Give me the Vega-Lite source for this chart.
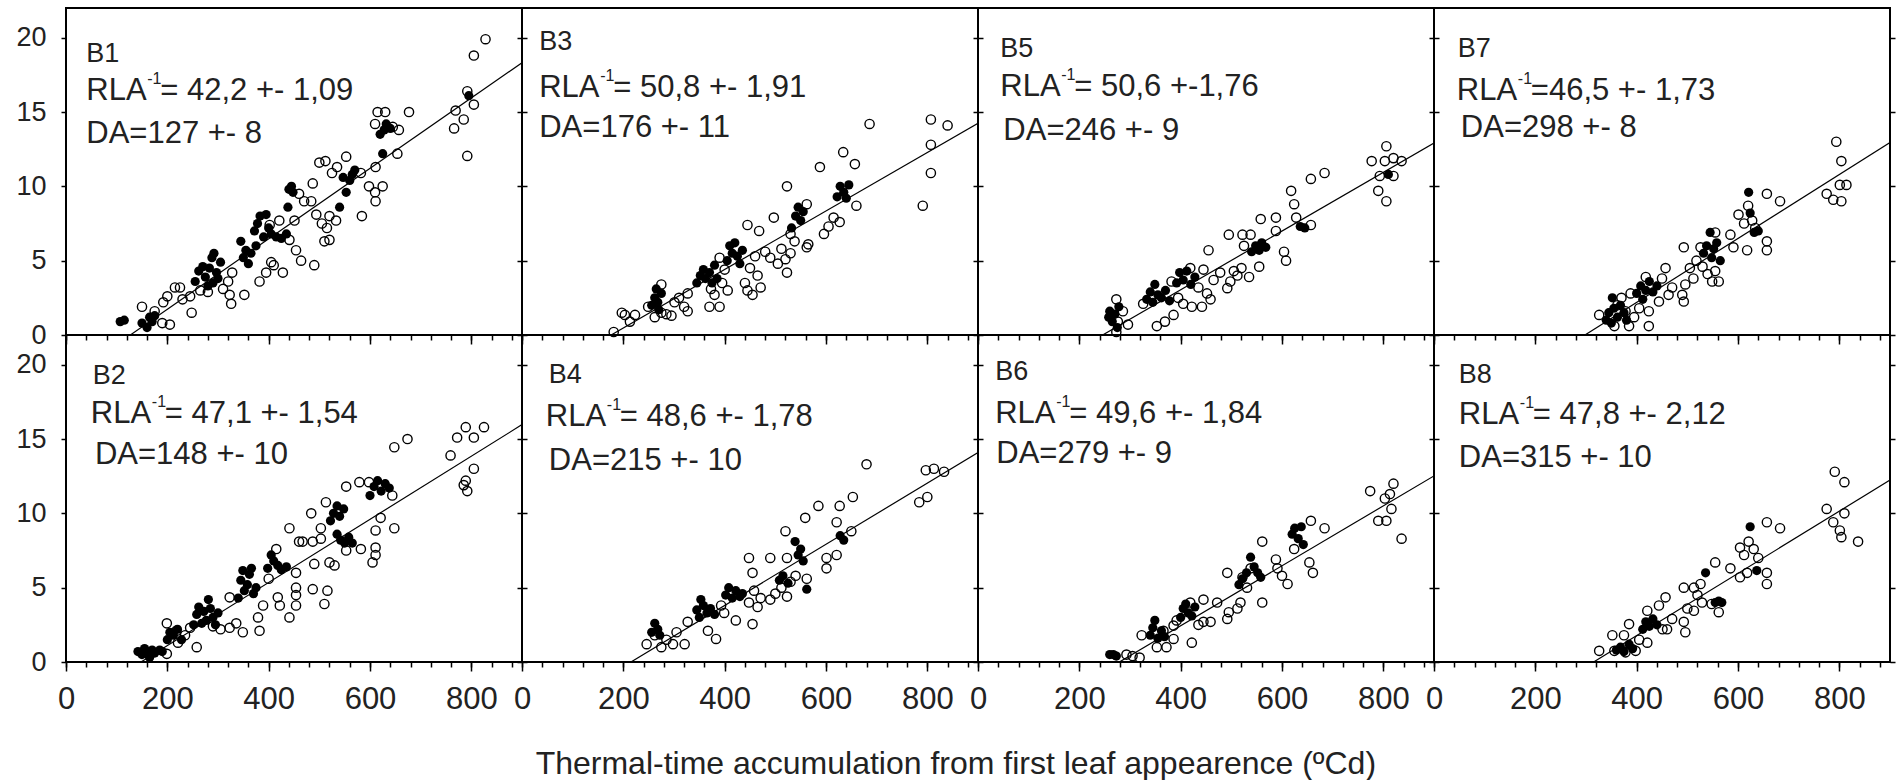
{
"$schema": "https://vega.github.io/schema/vega-lite/v6.json",
"background": "white",
"padding": {"left": 14, "top": 7, "right": 0, "bottom": 0},
"datasets": {
"B1_filled": [{"tt":107,"leaves":0.9},{"tt":115,"leaves":1.0},{"tt":150,"leaves":0.8},{"tt":160,"leaves":0.5},{"tt":170,"leaves":0.9},{"tt":175,"leaves":1.3},{"tt":165,"leaves":1.2},{"tt":255,"leaves":3.6},{"tt":262,"leaves":4.3},{"tt":270,"leaves":4.6},{"tt":275,"leaves":3.9},{"tt":280,"leaves":3.3},{"tt":283,"leaves":4.5},{"tt":288,"leaves":5.2},{"tt":292,"leaves":5.5},{"tt":297,"leaves":4.2},{"tt":300,"leaves":3.8},{"tt":305,"leaves":4.9},{"tt":290,"leaves":3.5},{"tt":345,"leaves":6.3},{"tt":350,"leaves":5.2},{"tt":355,"leaves":5.7},{"tt":360,"leaves":4.8},{"tt":365,"leaves":5.5},{"tt":375,"leaves":6.0},{"tt":372,"leaves":7.0},{"tt":378,"leaves":7.5},{"tt":383,"leaves":8.0},{"tt":390,"leaves":6.6},{"tt":395,"leaves":8.1},{"tt":400,"leaves":7.2},{"tt":405,"leaves":6.8},{"tt":415,"leaves":6.6},{"tt":425,"leaves":6.5},{"tt":435,"leaves":6.8},{"tt":438,"leaves":8.6},{"tt":440,"leaves":9.8},{"tt":448,"leaves":9.6},{"tt":445,"leaves":10.0},{"tt":540,"leaves":8.6},{"tt":553,"leaves":9.6},{"tt":560,"leaves":10.4},{"tt":565,"leaves":10.8},{"tt":570,"leaves":11.1},{"tt":547,"leaves":10.6},{"tt":625,"leaves":12.2},{"tt":620,"leaves":13.5},{"tt":628,"leaves":13.8},{"tt":632,"leaves":14.2},{"tt":640,"leaves":13.9},{"tt":795,"leaves":16.1}],
"B1_open": [{"tt":150,"leaves":1.9},{"tt":175,"leaves":1.6},{"tt":190,"leaves":0.8},{"tt":205,"leaves":0.7},{"tt":192,"leaves":2.2},{"tt":200,"leaves":2.6},{"tt":215,"leaves":3.2},{"tt":225,"leaves":3.2},{"tt":230,"leaves":2.4},{"tt":248,"leaves":1.5},{"tt":245,"leaves":2.6},{"tt":265,"leaves":3.0},{"tt":280,"leaves":2.9},{"tt":310,"leaves":3.1},{"tt":320,"leaves":3.6},{"tt":323,"leaves":2.7},{"tt":326,"leaves":2.1},{"tt":352,"leaves":2.7},{"tt":328,"leaves":4.2},{"tt":382,"leaves":3.6},{"tt":395,"leaves":4.2},{"tt":405,"leaves":4.9},{"tt":410,"leaves":4.7},{"tt":428,"leaves":4.2},{"tt":402,"leaves":7.4},{"tt":421,"leaves":7.7},{"tt":441,"leaves":6.4},{"tt":454,"leaves":5.7},{"tt":464,"leaves":5.0},{"tt":490,"leaves":4.7},{"tt":451,"leaves":7.7},{"tt":460,"leaves":9.5},{"tt":470,"leaves":9.0},{"tt":484,"leaves":9.0},{"tt":487,"leaves":10.2},{"tt":494,"leaves":8.1},{"tt":505,"leaves":7.5},{"tt":515,"leaves":7.2},{"tt":520,"leaves":8.0},{"tt":510,"leaves":6.3},{"tt":520,"leaves":6.4},{"tt":533,"leaves":7.7},{"tt":500,"leaves":11.6},{"tt":512,"leaves":11.7},{"tt":525,"leaves":10.9},{"tt":535,"leaves":11.3},{"tt":553,"leaves":12.0},{"tt":582,"leaves":10.9},{"tt":584,"leaves":8.0},{"tt":598,"leaves":10.0},{"tt":610,"leaves":9.6},{"tt":611,"leaves":9.0},{"tt":625,"leaves":10.0},{"tt":611,"leaves":11.3},{"tt":654,"leaves":12.2},{"tt":610,"leaves":14.2},{"tt":615,"leaves":15.0},{"tt":630,"leaves":15.0},{"tt":645,"leaves":14.0},{"tt":657,"leaves":13.8},{"tt":677,"leaves":15.0},{"tt":766,"leaves":13.9},{"tt":769,"leaves":15.1},{"tt":785,"leaves":14.5},{"tt":792,"leaves":12.05},{"tt":792,"leaves":16.4},{"tt":805,"leaves":15.5},{"tt":805,"leaves":18.8},{"tt":828,"leaves":19.9}],
"B3_filled": [{"tt":256,"leaves":2.0},{"tt":262,"leaves":2.5},{"tt":265,"leaves":3.1},{"tt":270,"leaves":1.7},{"tt":268,"leaves":2.2},{"tt":275,"leaves":2.8},{"tt":345,"leaves":3.5},{"tt":352,"leaves":4.0},{"tt":358,"leaves":4.4},{"tt":362,"leaves":3.8},{"tt":370,"leaves":4.2},{"tt":375,"leaves":3.5},{"tt":380,"leaves":4.7},{"tt":385,"leaves":3.8},{"tt":405,"leaves":5.0},{"tt":410,"leaves":6.0},{"tt":415,"leaves":5.5},{"tt":420,"leaves":6.2},{"tt":425,"leaves":5.3},{"tt":430,"leaves":4.8},{"tt":435,"leaves":5.7},{"tt":532,"leaves":7.2},{"tt":540,"leaves":8.0},{"tt":545,"leaves":8.6},{"tt":550,"leaves":7.7},{"tt":555,"leaves":8.3},{"tt":622,"leaves":9.3},{"tt":628,"leaves":10.0},{"tt":635,"leaves":9.6},{"tt":640,"leaves":9.2},{"tt":645,"leaves":10.1}],
"B3_open": [{"tt":181,"leaves":0.2},{"tt":197,"leaves":1.5},{"tt":203,"leaves":1.35},{"tt":213,"leaves":0.9},{"tt":223,"leaves":1.35},{"tt":249,"leaves":1.9},{"tt":262,"leaves":1.2},{"tt":275,"leaves":1.5},{"tt":285,"leaves":1.4},{"tt":295,"leaves":1.3},{"tt":275,"leaves":3.4},{"tt":301,"leaves":2.2},{"tt":310,"leaves":2.5},{"tt":320,"leaves":1.9},{"tt":327,"leaves":1.6},{"tt":327,"leaves":2.8},{"tt":370,"leaves":1.9},{"tt":390,"leaves":1.9},{"tt":373,"leaves":3.1},{"tt":380,"leaves":2.7},{"tt":395,"leaves":3.5},{"tt":390,"leaves":5.2},{"tt":400,"leaves":4.4},{"tt":406,"leaves":3.0},{"tt":440,"leaves":3.5},{"tt":445,"leaves":3.0},{"tt":450,"leaves":4.5},{"tt":455,"leaves":2.7},{"tt":460,"leaves":5.3},{"tt":465,"leaves":4.0},{"tt":471,"leaves":3.2},{"tt":445,"leaves":7.4},{"tt":468,"leaves":7.0},{"tt":480,"leaves":5.6},{"tt":490,"leaves":5.2},{"tt":497,"leaves":7.9},{"tt":505,"leaves":4.8},{"tt":512,"leaves":5.8},{"tt":520,"leaves":5.1},{"tt":523,"leaves":4.2},{"tt":530,"leaves":5.5},{"tt":523,"leaves":10.0},{"tt":530,"leaves":6.8},{"tt":538,"leaves":6.3},{"tt":562,"leaves":8.8},{"tt":562,"leaves":5.9},{"tt":565,"leaves":6.1},{"tt":588,"leaves":11.3},{"tt":596,"leaves":6.8},{"tt":605,"leaves":7.3},{"tt":615,"leaves":7.9},{"tt":627,"leaves":7.6},{"tt":634,"leaves":12.3},{"tt":657,"leaves":11.5},{"tt":660,"leaves":8.7},{"tt":686,"leaves":14.2},{"tt":791,"leaves":8.7},{"tt":807,"leaves":10.9},{"tt":807,"leaves":12.8},{"tt":807,"leaves":14.5},{"tt":840,"leaves":14.1}],
"B5_filled": [{"tt":258,"leaves":1.2},{"tt":260,"leaves":1.6},{"tt":265,"leaves":0.9},{"tt":270,"leaves":1.4},{"tt":275,"leaves":0.5},{"tt":278,"leaves":1.9},{"tt":333,"leaves":2.4},{"tt":340,"leaves":2.9},{"tt":345,"leaves":2.2},{"tt":349,"leaves":3.4},{"tt":355,"leaves":2.7},{"tt":362,"leaves":2.5},{"tt":370,"leaves":3.0},{"tt":378,"leaves":2.3},{"tt":392,"leaves":3.5},{"tt":398,"leaves":4.2},{"tt":405,"leaves":3.7},{"tt":412,"leaves":4.3},{"tt":420,"leaves":3.4},{"tt":428,"leaves":3.9},{"tt":540,"leaves":5.6},{"tt":548,"leaves":6.0},{"tt":555,"leaves":5.7},{"tt":560,"leaves":6.2},{"tt":568,"leaves":5.9},{"tt":636,"leaves":7.3},{"tt":645,"leaves":7.2},{"tt":810,"leaves":10.8}],
"B5_open": [{"tt":273,"leaves":2.4},{"tt":286,"leaves":1.6},{"tt":296,"leaves":0.7},{"tt":276,"leaves":0.9},{"tt":273,"leaves":0.2},{"tt":326,"leaves":2.1},{"tt":353,"leaves":0.6},{"tt":369,"leaves":0.9},{"tt":386,"leaves":1.35},{"tt":382,"leaves":3.6},{"tt":395,"leaves":2.5},{"tt":405,"leaves":2.1},{"tt":419,"leaves":4.5},{"tt":422,"leaves":1.9},{"tt":435,"leaves":3.2},{"tt":442,"leaves":1.9},{"tt":445,"leaves":4.4},{"tt":452,"leaves":2.8},{"tt":459,"leaves":2.4},{"tt":455,"leaves":5.7},{"tt":465,"leaves":3.7},{"tt":478,"leaves":4.2},{"tt":492,"leaves":3.15},{"tt":498,"leaves":3.6},{"tt":505,"leaves":4.3},{"tt":512,"leaves":4.0},{"tt":520,"leaves":4.5},{"tt":535,"leaves":3.9},{"tt":555,"leaves":4.6},{"tt":495,"leaves":6.75},{"tt":522,"leaves":6.75},{"tt":538,"leaves":6.75},{"tt":525,"leaves":6.0},{"tt":558,"leaves":7.8},{"tt":588,"leaves":7.9},{"tt":588,"leaves":7.0},{"tt":604,"leaves":5.6},{"tt":608,"leaves":5.0},{"tt":618,"leaves":9.7},{"tt":624,"leaves":8.8},{"tt":628,"leaves":7.9},{"tt":657,"leaves":7.4},{"tt":657,"leaves":10.5},{"tt":684,"leaves":10.9},{"tt":777,"leaves":11.7},{"tt":790,"leaves":9.7},{"tt":806,"leaves":9.0},{"tt":793,"leaves":10.7},{"tt":803,"leaves":11.7},{"tt":806,"leaves":12.7},{"tt":820,"leaves":11.9},{"tt":820,"leaves":10.7},{"tt":836,"leaves":11.7}],
"B7_filled": [{"tt":340,"leaves":1.0},{"tt":345,"leaves":1.5},{"tt":350,"leaves":0.8},{"tt":352,"leaves":2.5},{"tt":355,"leaves":1.8},{"tt":362,"leaves":1.2},{"tt":368,"leaves":2.0},{"tt":375,"leaves":1.5},{"tt":380,"leaves":1.0},{"tt":400,"leaves":2.8},{"tt":408,"leaves":3.3},{"tt":412,"leaves":2.4},{"tt":418,"leaves":3.0},{"tt":425,"leaves":3.6},{"tt":432,"leaves":2.9},{"tt":440,"leaves":3.3},{"tt":532,"leaves":5.5},{"tt":538,"leaves":6.0},{"tt":545,"leaves":6.9},{"tt":548,"leaves":5.2},{"tt":552,"leaves":5.8},{"tt":558,"leaves":6.2},{"tt":565,"leaves":5.0},{"tt":621,"leaves":9.6},{"tt":624,"leaves":8.2},{"tt":640,"leaves":7.0},{"tt":632,"leaves":6.9}],
"B7_open": [{"tt":326,"leaves":1.35},{"tt":356,"leaves":0.6},{"tt":385,"leaves":0.6},{"tt":424,"leaves":0.6},{"tt":362,"leaves":2.0},{"tt":370,"leaves":2.5},{"tt":378,"leaves":1.6},{"tt":388,"leaves":2.8},{"tt":395,"leaves":1.2},{"tt":405,"leaves":1.8},{"tt":418,"leaves":3.9},{"tt":424,"leaves":1.6},{"tt":444,"leaves":2.25},{"tt":450,"leaves":3.8},{"tt":457,"leaves":4.5},{"tt":463,"leaves":2.7},{"tt":470,"leaves":3.2},{"tt":490,"leaves":2.7},{"tt":493,"leaves":2.25},{"tt":496,"leaves":3.4},{"tt":493,"leaves":5.9},{"tt":505,"leaves":4.5},{"tt":512,"leaves":3.8},{"tt":518,"leaves":5.0},{"tt":526,"leaves":5.9},{"tt":530,"leaves":4.6},{"tt":540,"leaves":4.1},{"tt":549,"leaves":3.6},{"tt":555,"leaves":6.9},{"tt":562,"leaves":3.6},{"tt":555,"leaves":4.3},{"tt":585,"leaves":6.75},{"tt":591,"leaves":5.9},{"tt":618,"leaves":5.7},{"tt":601,"leaves":8.1},{"tt":612,"leaves":7.5},{"tt":620,"leaves":8.7},{"tt":628,"leaves":7.7},{"tt":634,"leaves":7.2},{"tt":657,"leaves":9.5},{"tt":683,"leaves":9.0},{"tt":657,"leaves":5.7},{"tt":657,"leaves":6.3},{"tt":775,"leaves":9.5},{"tt":788,"leaves":9.1},{"tt":804,"leaves":9.0},{"tt":801,"leaves":10.1},{"tt":814,"leaves":10.1},{"tt":794,"leaves":13.0},{"tt":804,"leaves":11.7}],
"B2_filled": [{"tt":142,"leaves":0.7},{"tt":150,"leaves":0.5},{"tt":155,"leaves":0.9},{"tt":160,"leaves":0.6},{"tt":165,"leaves":0.3},{"tt":170,"leaves":0.8},{"tt":175,"leaves":0.6},{"tt":185,"leaves":0.8},{"tt":190,"leaves":0.7},{"tt":200,"leaves":1.5},{"tt":205,"leaves":2.0},{"tt":212,"leaves":1.8},{"tt":220,"leaves":2.2},{"tt":228,"leaves":1.5},{"tt":252,"leaves":2.5},{"tt":258,"leaves":3.2},{"tt":262,"leaves":3.7},{"tt":268,"leaves":2.6},{"tt":272,"leaves":3.4},{"tt":277,"leaves":2.8},{"tt":281,"leaves":4.2},{"tt":285,"leaves":3.6},{"tt":290,"leaves":3.0},{"tt":295,"leaves":2.5},{"tt":300,"leaves":3.3},{"tt":340,"leaves":4.3},{"tt":345,"leaves":5.5},{"tt":349,"leaves":6.15},{"tt":352,"leaves":4.8},{"tt":358,"leaves":5.2},{"tt":362,"leaves":5.9},{"tt":366,"leaves":6.3},{"tt":370,"leaves":4.6},{"tt":375,"leaves":5.0},{"tt":398,"leaves":6.3},{"tt":405,"leaves":7.2},{"tt":410,"leaves":6.8},{"tt":418,"leaves":6.5},{"tt":425,"leaves":6.2},{"tt":435,"leaves":6.4},{"tt":522,"leaves":9.5},{"tt":528,"leaves":10.0},{"tt":535,"leaves":10.5},{"tt":540,"leaves":9.8},{"tt":548,"leaves":10.3},{"tt":535,"leaves":8.6},{"tt":542,"leaves":8.2},{"tt":550,"leaves":8.0},{"tt":558,"leaves":8.4},{"tt":565,"leaves":8.0},{"tt":600,"leaves":11.2},{"tt":608,"leaves":11.8},{"tt":615,"leaves":12.2},{"tt":622,"leaves":11.5},{"tt":630,"leaves":12.0},{"tt":638,"leaves":11.7}],
"B2_open": [{"tt":199,"leaves":0.55},{"tt":199,"leaves":2.6},{"tt":218,"leaves":2.1},{"tt":221,"leaves":1.3},{"tt":235,"leaves":1.8},{"tt":245,"leaves":2.3},{"tt":258,"leaves":1.0},{"tt":290,"leaves":2.4},{"tt":305,"leaves":2.2},{"tt":323,"leaves":2.3},{"tt":336,"leaves":2.6},{"tt":349,"leaves":2.0},{"tt":382,"leaves":2.1},{"tt":379,"leaves":3.0},{"tt":323,"leaves":4.35},{"tt":389,"leaves":3.8},{"tt":400,"leaves":5.6},{"tt":418,"leaves":4.35},{"tt":422,"leaves":3.8},{"tt":415,"leaves":7.6},{"tt":441,"leaves":9.0},{"tt":441,"leaves":3.0},{"tt":454,"leaves":3.8},{"tt":454,"leaves":4.5},{"tt":454,"leaves":5.0},{"tt":454,"leaves":6.0},{"tt":460,"leaves":8.1},{"tt":467,"leaves":8.1},{"tt":487,"leaves":4.9},{"tt":490,"leaves":6.6},{"tt":484,"leaves":10.0},{"tt":487,"leaves":8.1},{"tt":503,"leaves":9.0},{"tt":510,"leaves":3.9},{"tt":516,"leaves":4.8},{"tt":513,"leaves":10.75},{"tt":520,"leaves":6.7},{"tt":530,"leaves":6.5},{"tt":503,"leaves":8.3},{"tt":553,"leaves":7.5},{"tt":553,"leaves":11.8},{"tt":579,"leaves":12.1},{"tt":582,"leaves":7.6},{"tt":598,"leaves":12.1},{"tt":605,"leaves":6.7},{"tt":611,"leaves":7.2},{"tt":611,"leaves":7.7},{"tt":611,"leaves":8.85},{"tt":621,"leaves":9.7},{"tt":644,"leaves":11.2},{"tt":648,"leaves":9.0},{"tt":648,"leaves":14.45},{"tt":674,"leaves":15.0},{"tt":759,"leaves":13.9},{"tt":772,"leaves":15.1},{"tt":789,"leaves":15.8},{"tt":805,"leaves":15.1},{"tt":825,"leaves":15.8},{"tt":805,"leaves":13.0},{"tt":785,"leaves":11.9},{"tt":792,"leaves":11.5},{"tt":789,"leaves":12.2}],
"B4_filled": [{"tt":256,"leaves":2.0},{"tt":262,"leaves":2.6},{"tt":268,"leaves":2.2},{"tt":272,"leaves":1.8},{"tt":345,"leaves":3.5},{"tt":350,"leaves":3.0},{"tt":353,"leaves":4.2},{"tt":358,"leaves":3.8},{"tt":365,"leaves":3.3},{"tt":372,"leaves":3.6},{"tt":380,"leaves":3.2},{"tt":402,"leaves":4.5},{"tt":408,"leaves":5.0},{"tt":415,"leaves":4.3},{"tt":422,"leaves":4.8},{"tt":430,"leaves":4.4},{"tt":435,"leaves":4.6},{"tt":508,"leaves":5.5},{"tt":515,"leaves":5.8},{"tt":525,"leaves":5.3},{"tt":539,"leaves":8.1},{"tt":545,"leaves":7.2},{"tt":550,"leaves":7.6},{"tt":555,"leaves":6.8},{"tt":562,"leaves":4.9},{"tt":628,"leaves":8.5},{"tt":635,"leaves":8.2}],
"B4_open": [{"tt":246,"leaves":1.2},{"tt":262,"leaves":1.8},{"tt":275,"leaves":1.0},{"tt":285,"leaves":1.5},{"tt":298,"leaves":1.2},{"tt":321,"leaves":1.2},{"tt":305,"leaves":2.0},{"tt":327,"leaves":2.7},{"tt":367,"leaves":2.1},{"tt":383,"leaves":1.55},{"tt":393,"leaves":3.8},{"tt":399,"leaves":3.3},{"tt":422,"leaves":2.8},{"tt":455,"leaves":2.55},{"tt":448,"leaves":4.0},{"tt":458,"leaves":4.8},{"tt":465,"leaves":3.7},{"tt":471,"leaves":4.3},{"tt":455,"leaves":6.0},{"tt":448,"leaves":7.0},{"tt":490,"leaves":4.2},{"tt":500,"leaves":4.6},{"tt":512,"leaves":5.0},{"tt":523,"leaves":4.4},{"tt":490,"leaves":7.0},{"tt":520,"leaves":8.8},{"tt":530,"leaves":5.4},{"tt":540,"leaves":5.8},{"tt":562,"leaves":5.6},{"tt":523,"leaves":7.0},{"tt":559,"leaves":9.7},{"tt":585,"leaves":10.5},{"tt":601,"leaves":7.0},{"tt":601,"leaves":6.3},{"tt":621,"leaves":7.2},{"tt":621,"leaves":9.4},{"tt":627,"leaves":10.5},{"tt":653,"leaves":11.1},{"tt":650,"leaves":8.8},{"tt":680,"leaves":13.3},{"tt":784,"leaves":10.75},{"tt":800,"leaves":11.1},{"tt":797,"leaves":12.9},{"tt":813,"leaves":13.0},{"tt":833,"leaves":12.8}],
"B6_filled": [{"tt":260,"leaves":0.5},{"tt":267,"leaves":0.5},{"tt":273,"leaves":0.4},{"tt":340,"leaves":1.8},{"tt":345,"leaves":2.3},{"tt":349,"leaves":2.8},{"tt":355,"leaves":1.6},{"tt":362,"leaves":2.1},{"tt":368,"leaves":1.7},{"tt":400,"leaves":3.0},{"tt":405,"leaves":3.6},{"tt":410,"leaves":3.9},{"tt":415,"leaves":3.3},{"tt":422,"leaves":3.1},{"tt":428,"leaves":3.7},{"tt":515,"leaves":5.2},{"tt":522,"leaves":5.6},{"tt":530,"leaves":6.0},{"tt":538,"leaves":7.05},{"tt":545,"leaves":6.4},{"tt":552,"leaves":6.0},{"tt":558,"leaves":5.7},{"tt":620,"leaves":8.6},{"tt":625,"leaves":9.0},{"tt":632,"leaves":8.3},{"tt":638,"leaves":9.1},{"tt":642,"leaves":7.9}],
"B6_open": [{"tt":293,"leaves":0.5},{"tt":305,"leaves":0.4},{"tt":319,"leaves":0.3},{"tt":323,"leaves":1.8},{"tt":353,"leaves":1.0},{"tt":372,"leaves":1.0},{"tt":386,"leaves":1.55},{"tt":366,"leaves":2.1},{"tt":386,"leaves":2.45},{"tt":392,"leaves":2.8},{"tt":419,"leaves":4.0},{"tt":445,"leaves":4.2},{"tt":422,"leaves":1.3},{"tt":445,"leaves":2.7},{"tt":459,"leaves":2.7},{"tt":435,"leaves":2.5},{"tt":472,"leaves":4.0},{"tt":492,"leaves":2.9},{"tt":495,"leaves":3.35},{"tt":512,"leaves":3.6},{"tt":518,"leaves":4.0},{"tt":492,"leaves":6.0},{"tt":522,"leaves":5.7},{"tt":531,"leaves":5.0},{"tt":538,"leaves":6.3},{"tt":561,"leaves":8.1},{"tt":561,"leaves":4.0},{"tt":588,"leaves":6.9},{"tt":591,"leaves":6.3},{"tt":611,"leaves":5.25},{"tt":600,"leaves":5.8},{"tt":624,"leaves":7.6},{"tt":657,"leaves":9.5},{"tt":684,"leaves":9.0},{"tt":654,"leaves":6.7},{"tt":661,"leaves":6.0},{"tt":774,"leaves":11.5},{"tt":790,"leaves":9.5},{"tt":806,"leaves":9.5},{"tt":803,"leaves":11.0},{"tt":820,"leaves":12.0},{"tt":816,"leaves":10.3},{"tt":836,"leaves":8.3},{"tt":813,"leaves":11.3}],
"B8_filled": [{"tt":360,"leaves":0.8},{"tt":368,"leaves":1.0},{"tt":375,"leaves":0.7},{"tt":385,"leaves":1.2},{"tt":392,"leaves":0.9},{"tt":412,"leaves":2.2},{"tt":418,"leaves":2.7},{"tt":425,"leaves":2.4},{"tt":432,"leaves":2.9},{"tt":440,"leaves":2.5},{"tt":536,"leaves":6.0},{"tt":555,"leaves":4.0},{"tt":562,"leaves":4.1},{"tt":568,"leaves":4.0},{"tt":624,"leaves":9.1},{"tt":637,"leaves":6.15}],
"B8_open": [{"tt":326,"leaves":0.75},{"tt":352,"leaves":1.8},{"tt":356,"leaves":0.75},{"tt":378,"leaves":0.65},{"tt":398,"leaves":0.75},{"tt":385,"leaves":2.55},{"tt":375,"leaves":1.8},{"tt":405,"leaves":1.5},{"tt":421,"leaves":3.45},{"tt":421,"leaves":1.3},{"tt":444,"leaves":3.8},{"tt":457,"leaves":4.35},{"tt":451,"leaves":2.2},{"tt":460,"leaves":2.2},{"tt":470,"leaves":2.9},{"tt":493,"leaves":2.7},{"tt":496,"leaves":2.0},{"tt":493,"leaves":5.0},{"tt":513,"leaves":5.0},{"tt":526,"leaves":5.25},{"tt":500,"leaves":3.6},{"tt":513,"leaves":3.45},{"tt":529,"leaves":4.0},{"tt":520,"leaves":4.5},{"tt":555,"leaves":6.7},{"tt":562,"leaves":3.35},{"tt":548,"leaves":3.9},{"tt":585,"leaves":6.3},{"tt":604,"leaves":5.7},{"tt":618,"leaves":6.0},{"tt":621,"leaves":8.1},{"tt":631,"leaves":7.6},{"tt":604,"leaves":7.7},{"tt":612,"leaves":7.2},{"tt":640,"leaves":7.0},{"tt":657,"leaves":9.4},{"tt":683,"leaves":9.0},{"tt":657,"leaves":6.0},{"tt":657,"leaves":5.25},{"tt":775,"leaves":10.3},{"tt":788,"leaves":9.4},{"tt":801,"leaves":8.85},{"tt":804,"leaves":8.4},{"tt":810,"leaves":10.0},{"tt":837,"leaves":8.1},{"tt":791,"leaves":12.8},{"tt":810,"leaves":12.1}],
"lines": [{"panel":"B1","tt":127,"leaves":0},{"panel":"B1","tt":900,"leaves":18.32},{"panel":"B2","tt":148,"leaves":0},{"panel":"B2","tt":900,"leaves":15.97},{"panel":"B3","tt":176,"leaves":0},{"panel":"B3","tt":900,"leaves":14.25},{"panel":"B4","tt":215,"leaves":0},{"panel":"B4","tt":900,"leaves":14.09},{"panel":"B5","tt":246,"leaves":0},{"panel":"B5","tt":900,"leaves":12.92},{"panel":"B6","tt":279,"leaves":0},{"panel":"B6","tt":900,"leaves":12.52},{"panel":"B7","tt":298,"leaves":0},{"panel":"B7","tt":900,"leaves":12.95},{"panel":"B8","tt":315,"leaves":0},{"panel":"B8","tt":900,"leaves":12.24}],
"notes": [
{"panel":"B1","kind":"id","text":"B1","tt":40,"leaves":18.4},{"panel":"B1","kind":"rla","text":"= 42,2 +- 1,09","tt":40,"leaves":15.8},{"panel":"B1","kind":"da","text":"DA=127 +- 8","tt":40,"leaves":12.95},
{"panel":"B3","kind":"id","text":"B3","tt":34,"leaves":19.2},{"panel":"B3","kind":"rla","text":"= 50,8 +- 1,91","tt":34,"leaves":16.0},{"panel":"B3","kind":"da","text":"DA=176 +- 11","tt":34,"leaves":13.3},
{"panel":"B5","kind":"id","text":"B5","tt":44,"leaves":18.7},{"panel":"B5","kind":"rla","text":"= 50,6 +-1,76","tt":44,"leaves":16.05},{"panel":"B5","kind":"da","text":"DA=246 +- 9","tt":50,"leaves":13.1},
{"panel":"B7","kind":"id","text":"B7","tt":47,"leaves":18.7},{"panel":"B7","kind":"rla","text":"=46,5 +- 1,73","tt":45,"leaves":15.8},{"panel":"B7","kind":"da","text":"DA=298 +- 8","tt":53,"leaves":13.3},
{"panel":"B2","kind":"id","text":"B2","tt":53,"leaves":18.7},{"panel":"B2","kind":"rla","text":"= 47,1 +- 1,54","tt":49,"leaves":16.1},{"panel":"B2","kind":"da","text":"DA=148 +- 10","tt":57,"leaves":13.3},
{"panel":"B4","kind":"id","text":"B4","tt":53,"leaves":18.8},{"panel":"B4","kind":"rla","text":"= 48,6 +- 1,78","tt":47,"leaves":15.9},{"panel":"B4","kind":"da","text":"DA=215 +- 10","tt":53,"leaves":12.9},
{"panel":"B6","kind":"id","text":"B6","tt":34,"leaves":19.0},{"panel":"B6","kind":"rla","text":"= 49,6 +- 1,84","tt":34,"leaves":16.1},{"panel":"B6","kind":"da","text":"DA=279 +- 9","tt":36,"leaves":13.4},
{"panel":"B8","kind":"id","text":"B8","tt":49,"leaves":18.8},{"panel":"B8","kind":"rla","text":"= 47,8 +- 2,12","tt":49,"leaves":16.0},{"panel":"B8","kind":"da","text":"DA=315 +- 10","tt":49,"leaves":13.1}
]
},
"title": {"text": "Thermal-time accumulation from first leaf appearence (ºCd)", "orient": "bottom", "anchor": "middle", "fontSize": 32, "fontWeight": "normal", "font": "Liberation Sans", "color": "#222", "offset": 34},
"columns": 4,
"spacing": 0,
"bounds": "flush",
"concat": [
{"width": 456, "height": 327, "resolve": {"axis": {"x": "independent"}}, "layer": [
 {"data": {"name": "B1_open"}, "mark": {"type": "point", "shape": "circle", "filled": false, "stroke": "#000", "strokeWidth": 1.4, "size": 85, "opacity": 1},
  "encoding": {"x": {"field": "tt", "type": "quantitative", "scale": {"domain": [0, 900], "nice": false}, "axis": {"orient": "bottom", "values": [0,200,400,600,800], "labels": false, "domain": false, "grid": false, "title": null, "tickColor": "#000", "tickWidth": 1.5, "tickSize": 9}},
   "y": {"field": "leaves", "type": "quantitative", "scale": {"domain": [0, 22], "nice": false}, "axis": {"orient": "left", "values": [0,5,10,15,20], "domain": false, "grid": false, "title": null, "tickSize": 5, "tickWidth": 1.5, "tickColor": "#000", "labelFontSize": 27, "labelPadding": 15, "labelColor": "#222", "labelFont": "Liberation Sans"}}}},
 {"data": {"name": "B1_filled"}, "mark": {"type": "point", "shape": "circle", "filled": true, "fill": "#000", "strokeWidth": 0, "size": 85, "opacity": 1},
  "encoding": {"x": {"field": "tt", "type": "quantitative", "scale": {"domain": [0, 900], "nice": false}, "axis": {"orient": "bottom", "values": [0,40,80,120,160,200,240,280,320,360,400,440,480,520,560,600,640,680,720,760,800,840,880], "labels": false, "domain": false, "grid": false, "title": null, "tickColor": "#000", "tickWidth": 1.5, "tickSize": 5}},
   "y": {"field": "leaves", "type": "quantitative", "scale": {"domain": [0, 22], "nice": false}, "axis": {"orient": "right", "values": [0,5,10,15,20], "labels": false, "domain": false, "grid": false, "title": null, "tickSize": 5, "tickWidth": 1.5, "tickColor": "#000"}}}},
 {"data": {"name": "lines"}, "transform": [{"filter": "datum.panel === 'B1'"}], "mark": {"type": "line", "color": "#000", "strokeWidth": 1.2, "clip": true},
  "encoding": {"x": {"field": "tt", "type": "quantitative", "scale": {"domain": [0, 900], "nice": false}, "axis": null}, "y": {"field": "leaves", "type": "quantitative", "scale": {"domain": [0, 22], "nice": false}, "axis": null}}},
 {"data": {"name": "notes"}, "transform": [{"filter": "datum.panel === 'B1' && datum.kind === 'id'"}], "mark": {"type": "text", "align": "left", "baseline": "alphabetic", "fontSize": 27, "font": "Liberation Sans", "color": "#222"},
  "encoding": {"x": {"field": "tt", "type": "quantitative", "axis": null}, "y": {"field": "leaves", "type": "quantitative", "axis": null}, "text": {"field": "text"}}},
 {"data": {"name": "notes"}, "transform": [{"filter": "datum.panel === 'B1' && datum.kind === 'rla'"}], "mark": {"type": "text", "text": "RLA", "align": "left", "baseline": "alphabetic", "fontSize": 31, "font": "Liberation Sans", "color": "#222"},
  "encoding": {"x": {"field": "tt", "type": "quantitative", "axis": null}, "y": {"field": "leaves", "type": "quantitative", "axis": null}}},
 {"data": {"name": "notes"}, "transform": [{"filter": "datum.panel === 'B1' && datum.kind === 'rla'"}], "mark": {"type": "text", "text": "-1", "align": "left", "baseline": "alphabetic", "fontSize": 16, "dx": 61, "dy": -16, "font": "Liberation Sans", "color": "#222"},
  "encoding": {"x": {"field": "tt", "type": "quantitative", "axis": null}, "y": {"field": "leaves", "type": "quantitative", "axis": null}}},
 {"data": {"name": "notes"}, "transform": [{"filter": "datum.panel === 'B1' && datum.kind === 'rla'"}], "mark": {"type": "text", "align": "left", "baseline": "alphabetic", "fontSize": 31, "dx": 74, "font": "Liberation Sans", "color": "#222"},
  "encoding": {"x": {"field": "tt", "type": "quantitative", "axis": null}, "y": {"field": "leaves", "type": "quantitative", "axis": null}, "text": {"field": "text"}}},
 {"data": {"name": "notes"}, "transform": [{"filter": "datum.panel === 'B1' && datum.kind === 'da'"}], "mark": {"type": "text", "align": "left", "baseline": "alphabetic", "fontSize": 31, "font": "Liberation Sans", "color": "#222"},
  "encoding": {"x": {"field": "tt", "type": "quantitative", "axis": null}, "y": {"field": "leaves", "type": "quantitative", "axis": null}, "text": {"field": "text"}}}
]},
{"width": 456, "height": 327, "resolve": {"axis": {"x": "independent"}}, "layer": [
 {"data": {"name": "B3_open"}, "mark": {"type": "point", "shape": "circle", "filled": false, "stroke": "#000", "strokeWidth": 1.4, "size": 85, "opacity": 1},
  "encoding": {"x": {"field": "tt", "type": "quantitative", "scale": {"domain": [0, 900], "nice": false}, "axis": {"orient": "bottom", "values": [0,200,400,600,800], "labels": false, "domain": false, "grid": false, "title": null, "tickColor": "#000", "tickWidth": 1.5, "tickSize": 9}},
   "y": {"field": "leaves", "type": "quantitative", "scale": {"domain": [0, 22], "nice": false}, "axis": {"orient": "left", "values": [0,5,10,15,20], "labels": false, "domain": false, "grid": false, "title": null, "tickSize": 5, "tickWidth": 1.5, "tickColor": "#000"}}}},
 {"data": {"name": "B3_filled"}, "mark": {"type": "point", "shape": "circle", "filled": true, "fill": "#000", "strokeWidth": 0, "size": 85, "opacity": 1},
  "encoding": {"x": {"field": "tt", "type": "quantitative", "scale": {"domain": [0, 900], "nice": false}, "axis": {"orient": "bottom", "values": [0,40,80,120,160,200,240,280,320,360,400,440,480,520,560,600,640,680,720,760,800,840,880], "labels": false, "domain": false, "grid": false, "title": null, "tickColor": "#000", "tickWidth": 1.5, "tickSize": 5}},
   "y": {"field": "leaves", "type": "quantitative", "scale": {"domain": [0, 22], "nice": false}, "axis": {"orient": "right", "values": [0,5,10,15,20], "labels": false, "domain": false, "grid": false, "title": null, "tickSize": 5, "tickWidth": 1.5, "tickColor": "#000"}}}},
 {"data": {"name": "lines"}, "transform": [{"filter": "datum.panel === 'B3'"}], "mark": {"type": "line", "color": "#000", "strokeWidth": 1.2, "clip": true},
  "encoding": {"x": {"field": "tt", "type": "quantitative", "scale": {"domain": [0, 900], "nice": false}, "axis": null}, "y": {"field": "leaves", "type": "quantitative", "scale": {"domain": [0, 22], "nice": false}, "axis": null}}},
 {"data": {"name": "notes"}, "transform": [{"filter": "datum.panel === 'B3' && datum.kind === 'id'"}], "mark": {"type": "text", "align": "left", "baseline": "alphabetic", "fontSize": 27, "font": "Liberation Sans", "color": "#222"},
  "encoding": {"x": {"field": "tt", "type": "quantitative", "axis": null}, "y": {"field": "leaves", "type": "quantitative", "axis": null}, "text": {"field": "text"}}},
 {"data": {"name": "notes"}, "transform": [{"filter": "datum.panel === 'B3' && datum.kind === 'rla'"}], "mark": {"type": "text", "text": "RLA", "align": "left", "baseline": "alphabetic", "fontSize": 31, "font": "Liberation Sans", "color": "#222"},
  "encoding": {"x": {"field": "tt", "type": "quantitative", "axis": null}, "y": {"field": "leaves", "type": "quantitative", "axis": null}}},
 {"data": {"name": "notes"}, "transform": [{"filter": "datum.panel === 'B3' && datum.kind === 'rla'"}], "mark": {"type": "text", "text": "-1", "align": "left", "baseline": "alphabetic", "fontSize": 16, "dx": 61, "dy": -16, "font": "Liberation Sans", "color": "#222"},
  "encoding": {"x": {"field": "tt", "type": "quantitative", "axis": null}, "y": {"field": "leaves", "type": "quantitative", "axis": null}}},
 {"data": {"name": "notes"}, "transform": [{"filter": "datum.panel === 'B3' && datum.kind === 'rla'"}], "mark": {"type": "text", "align": "left", "baseline": "alphabetic", "fontSize": 31, "dx": 74, "font": "Liberation Sans", "color": "#222"},
  "encoding": {"x": {"field": "tt", "type": "quantitative", "axis": null}, "y": {"field": "leaves", "type": "quantitative", "axis": null}, "text": {"field": "text"}}},
 {"data": {"name": "notes"}, "transform": [{"filter": "datum.panel === 'B3' && datum.kind === 'da'"}], "mark": {"type": "text", "align": "left", "baseline": "alphabetic", "fontSize": 31, "font": "Liberation Sans", "color": "#222"},
  "encoding": {"x": {"field": "tt", "type": "quantitative", "axis": null}, "y": {"field": "leaves", "type": "quantitative", "axis": null}, "text": {"field": "text"}}}
]},
{"width": 456, "height": 327, "resolve": {"axis": {"x": "independent"}}, "layer": [
 {"data": {"name": "B5_open"}, "mark": {"type": "point", "shape": "circle", "filled": false, "stroke": "#000", "strokeWidth": 1.4, "size": 85, "opacity": 1},
  "encoding": {"x": {"field": "tt", "type": "quantitative", "scale": {"domain": [0, 900], "nice": false}, "axis": {"orient": "bottom", "values": [0,200,400,600,800], "labels": false, "domain": false, "grid": false, "title": null, "tickColor": "#000", "tickWidth": 1.5, "tickSize": 9}},
   "y": {"field": "leaves", "type": "quantitative", "scale": {"domain": [0, 22], "nice": false}, "axis": {"orient": "left", "values": [0,5,10,15,20], "labels": false, "domain": false, "grid": false, "title": null, "tickSize": 5, "tickWidth": 1.5, "tickColor": "#000"}}}},
 {"data": {"name": "B5_filled"}, "mark": {"type": "point", "shape": "circle", "filled": true, "fill": "#000", "strokeWidth": 0, "size": 85, "opacity": 1},
  "encoding": {"x": {"field": "tt", "type": "quantitative", "scale": {"domain": [0, 900], "nice": false}, "axis": {"orient": "bottom", "values": [0,40,80,120,160,200,240,280,320,360,400,440,480,520,560,600,640,680,720,760,800,840,880], "labels": false, "domain": false, "grid": false, "title": null, "tickColor": "#000", "tickWidth": 1.5, "tickSize": 5}},
   "y": {"field": "leaves", "type": "quantitative", "scale": {"domain": [0, 22], "nice": false}, "axis": {"orient": "right", "values": [0,5,10,15,20], "labels": false, "domain": false, "grid": false, "title": null, "tickSize": 5, "tickWidth": 1.5, "tickColor": "#000"}}}},
 {"data": {"name": "lines"}, "transform": [{"filter": "datum.panel === 'B5'"}], "mark": {"type": "line", "color": "#000", "strokeWidth": 1.2, "clip": true},
  "encoding": {"x": {"field": "tt", "type": "quantitative", "scale": {"domain": [0, 900], "nice": false}, "axis": null}, "y": {"field": "leaves", "type": "quantitative", "scale": {"domain": [0, 22], "nice": false}, "axis": null}}},
 {"data": {"name": "notes"}, "transform": [{"filter": "datum.panel === 'B5' && datum.kind === 'id'"}], "mark": {"type": "text", "align": "left", "baseline": "alphabetic", "fontSize": 27, "font": "Liberation Sans", "color": "#222"},
  "encoding": {"x": {"field": "tt", "type": "quantitative", "axis": null}, "y": {"field": "leaves", "type": "quantitative", "axis": null}, "text": {"field": "text"}}},
 {"data": {"name": "notes"}, "transform": [{"filter": "datum.panel === 'B5' && datum.kind === 'rla'"}], "mark": {"type": "text", "text": "RLA", "align": "left", "baseline": "alphabetic", "fontSize": 31, "font": "Liberation Sans", "color": "#222"},
  "encoding": {"x": {"field": "tt", "type": "quantitative", "axis": null}, "y": {"field": "leaves", "type": "quantitative", "axis": null}}},
 {"data": {"name": "notes"}, "transform": [{"filter": "datum.panel === 'B5' && datum.kind === 'rla'"}], "mark": {"type": "text", "text": "-1", "align": "left", "baseline": "alphabetic", "fontSize": 16, "dx": 61, "dy": -16, "font": "Liberation Sans", "color": "#222"},
  "encoding": {"x": {"field": "tt", "type": "quantitative", "axis": null}, "y": {"field": "leaves", "type": "quantitative", "axis": null}}},
 {"data": {"name": "notes"}, "transform": [{"filter": "datum.panel === 'B5' && datum.kind === 'rla'"}], "mark": {"type": "text", "align": "left", "baseline": "alphabetic", "fontSize": 31, "dx": 74, "font": "Liberation Sans", "color": "#222"},
  "encoding": {"x": {"field": "tt", "type": "quantitative", "axis": null}, "y": {"field": "leaves", "type": "quantitative", "axis": null}, "text": {"field": "text"}}},
 {"data": {"name": "notes"}, "transform": [{"filter": "datum.panel === 'B5' && datum.kind === 'da'"}], "mark": {"type": "text", "align": "left", "baseline": "alphabetic", "fontSize": 31, "font": "Liberation Sans", "color": "#222"},
  "encoding": {"x": {"field": "tt", "type": "quantitative", "axis": null}, "y": {"field": "leaves", "type": "quantitative", "axis": null}, "text": {"field": "text"}}}
]},
{"width": 456, "height": 327, "resolve": {"axis": {"x": "independent"}}, "layer": [
 {"data": {"name": "B7_open"}, "mark": {"type": "point", "shape": "circle", "filled": false, "stroke": "#000", "strokeWidth": 1.4, "size": 85, "opacity": 1},
  "encoding": {"x": {"field": "tt", "type": "quantitative", "scale": {"domain": [0, 900], "nice": false}, "axis": {"orient": "bottom", "values": [0,200,400,600,800], "labels": false, "domain": false, "grid": false, "title": null, "tickColor": "#000", "tickWidth": 1.5, "tickSize": 9}},
   "y": {"field": "leaves", "type": "quantitative", "scale": {"domain": [0, 22], "nice": false}, "axis": {"orient": "left", "values": [0,5,10,15,20], "labels": false, "domain": false, "grid": false, "title": null, "tickSize": 5, "tickWidth": 1.5, "tickColor": "#000"}}}},
 {"data": {"name": "B7_filled"}, "mark": {"type": "point", "shape": "circle", "filled": true, "fill": "#000", "strokeWidth": 0, "size": 85, "opacity": 1},
  "encoding": {"x": {"field": "tt", "type": "quantitative", "scale": {"domain": [0, 900], "nice": false}, "axis": {"orient": "bottom", "values": [0,40,80,120,160,200,240,280,320,360,400,440,480,520,560,600,640,680,720,760,800,840,880], "labels": false, "domain": false, "grid": false, "title": null, "tickColor": "#000", "tickWidth": 1.5, "tickSize": 5}},
   "y": {"field": "leaves", "type": "quantitative", "scale": {"domain": [0, 22], "nice": false}, "axis": {"orient": "right", "values": [0,5,10,15,20], "labels": false, "domain": false, "grid": false, "title": null, "tickSize": 5, "tickWidth": 1.5, "tickColor": "#000"}}}},
 {"data": {"name": "lines"}, "transform": [{"filter": "datum.panel === 'B7'"}], "mark": {"type": "line", "color": "#000", "strokeWidth": 1.2, "clip": true},
  "encoding": {"x": {"field": "tt", "type": "quantitative", "scale": {"domain": [0, 900], "nice": false}, "axis": null}, "y": {"field": "leaves", "type": "quantitative", "scale": {"domain": [0, 22], "nice": false}, "axis": null}}},
 {"data": {"name": "notes"}, "transform": [{"filter": "datum.panel === 'B7' && datum.kind === 'id'"}], "mark": {"type": "text", "align": "left", "baseline": "alphabetic", "fontSize": 27, "font": "Liberation Sans", "color": "#222"},
  "encoding": {"x": {"field": "tt", "type": "quantitative", "axis": null}, "y": {"field": "leaves", "type": "quantitative", "axis": null}, "text": {"field": "text"}}},
 {"data": {"name": "notes"}, "transform": [{"filter": "datum.panel === 'B7' && datum.kind === 'rla'"}], "mark": {"type": "text", "text": "RLA", "align": "left", "baseline": "alphabetic", "fontSize": 31, "font": "Liberation Sans", "color": "#222"},
  "encoding": {"x": {"field": "tt", "type": "quantitative", "axis": null}, "y": {"field": "leaves", "type": "quantitative", "axis": null}}},
 {"data": {"name": "notes"}, "transform": [{"filter": "datum.panel === 'B7' && datum.kind === 'rla'"}], "mark": {"type": "text", "text": "-1", "align": "left", "baseline": "alphabetic", "fontSize": 16, "dx": 61, "dy": -16, "font": "Liberation Sans", "color": "#222"},
  "encoding": {"x": {"field": "tt", "type": "quantitative", "axis": null}, "y": {"field": "leaves", "type": "quantitative", "axis": null}}},
 {"data": {"name": "notes"}, "transform": [{"filter": "datum.panel === 'B7' && datum.kind === 'rla'"}], "mark": {"type": "text", "align": "left", "baseline": "alphabetic", "fontSize": 31, "dx": 74, "font": "Liberation Sans", "color": "#222"},
  "encoding": {"x": {"field": "tt", "type": "quantitative", "axis": null}, "y": {"field": "leaves", "type": "quantitative", "axis": null}, "text": {"field": "text"}}},
 {"data": {"name": "notes"}, "transform": [{"filter": "datum.panel === 'B7' && datum.kind === 'da'"}], "mark": {"type": "text", "align": "left", "baseline": "alphabetic", "fontSize": 31, "font": "Liberation Sans", "color": "#222"},
  "encoding": {"x": {"field": "tt", "type": "quantitative", "axis": null}, "y": {"field": "leaves", "type": "quantitative", "axis": null}, "text": {"field": "text"}}}
]},
{"width": 456, "height": 327, "resolve": {"axis": {"x": "independent"}}, "layer": [
 {"data": {"name": "B2_open"}, "mark": {"type": "point", "shape": "circle", "filled": false, "stroke": "#000", "strokeWidth": 1.4, "size": 85, "opacity": 1},
  "encoding": {"x": {"field": "tt", "type": "quantitative", "scale": {"domain": [0, 900], "nice": false}, "axis": {"orient": "bottom", "values": [0,200,400,600,800], "labelFontSize": 31, "labelFont": "Liberation Sans", "labelColor": "#222", "labelPadding": 13, "labelFlush": false, "labelOverlap": false, "labelBound": false, "domain": false, "grid": false, "title": null, "tickColor": "#000", "tickWidth": 1.5, "tickSize": 9}},
   "y": {"field": "leaves", "type": "quantitative", "scale": {"domain": [0, 22], "nice": false}, "axis": {"orient": "left", "values": [0,5,10,15,20], "domain": false, "grid": false, "title": null, "tickSize": 5, "tickWidth": 1.5, "tickColor": "#000", "labelFontSize": 27, "labelPadding": 15, "labelColor": "#222", "labelFont": "Liberation Sans"}}}},
 {"data": {"name": "B2_filled"}, "mark": {"type": "point", "shape": "circle", "filled": true, "fill": "#000", "strokeWidth": 0, "size": 85, "opacity": 1},
  "encoding": {"x": {"field": "tt", "type": "quantitative", "scale": {"domain": [0, 900], "nice": false}, "axis": {"orient": "bottom", "values": [0,40,80,120,160,200,240,280,320,360,400,440,480,520,560,600,640,680,720,760,800,840,880], "labels": false, "domain": false, "grid": false, "title": null, "tickColor": "#000", "tickWidth": 1.5, "tickSize": 5}},
   "y": {"field": "leaves", "type": "quantitative", "scale": {"domain": [0, 22], "nice": false}, "axis": {"orient": "right", "values": [0,5,10,15,20], "labels": false, "domain": false, "grid": false, "title": null, "tickSize": 5, "tickWidth": 1.5, "tickColor": "#000"}}}},
 {"data": {"name": "lines"}, "transform": [{"filter": "datum.panel === 'B2'"}], "mark": {"type": "line", "color": "#000", "strokeWidth": 1.2, "clip": true},
  "encoding": {"x": {"field": "tt", "type": "quantitative", "scale": {"domain": [0, 900], "nice": false}, "axis": null}, "y": {"field": "leaves", "type": "quantitative", "scale": {"domain": [0, 22], "nice": false}, "axis": null}}},
 {"data": {"name": "notes"}, "transform": [{"filter": "datum.panel === 'B2' && datum.kind === 'id'"}], "mark": {"type": "text", "align": "left", "baseline": "alphabetic", "fontSize": 27, "font": "Liberation Sans", "color": "#222"},
  "encoding": {"x": {"field": "tt", "type": "quantitative", "axis": null}, "y": {"field": "leaves", "type": "quantitative", "axis": null}, "text": {"field": "text"}}},
 {"data": {"name": "notes"}, "transform": [{"filter": "datum.panel === 'B2' && datum.kind === 'rla'"}], "mark": {"type": "text", "text": "RLA", "align": "left", "baseline": "alphabetic", "fontSize": 31, "font": "Liberation Sans", "color": "#222"},
  "encoding": {"x": {"field": "tt", "type": "quantitative", "axis": null}, "y": {"field": "leaves", "type": "quantitative", "axis": null}}},
 {"data": {"name": "notes"}, "transform": [{"filter": "datum.panel === 'B2' && datum.kind === 'rla'"}], "mark": {"type": "text", "text": "-1", "align": "left", "baseline": "alphabetic", "fontSize": 16, "dx": 61, "dy": -16, "font": "Liberation Sans", "color": "#222"},
  "encoding": {"x": {"field": "tt", "type": "quantitative", "axis": null}, "y": {"field": "leaves", "type": "quantitative", "axis": null}}},
 {"data": {"name": "notes"}, "transform": [{"filter": "datum.panel === 'B2' && datum.kind === 'rla'"}], "mark": {"type": "text", "align": "left", "baseline": "alphabetic", "fontSize": 31, "dx": 74, "font": "Liberation Sans", "color": "#222"},
  "encoding": {"x": {"field": "tt", "type": "quantitative", "axis": null}, "y": {"field": "leaves", "type": "quantitative", "axis": null}, "text": {"field": "text"}}},
 {"data": {"name": "notes"}, "transform": [{"filter": "datum.panel === 'B2' && datum.kind === 'da'"}], "mark": {"type": "text", "align": "left", "baseline": "alphabetic", "fontSize": 31, "font": "Liberation Sans", "color": "#222"},
  "encoding": {"x": {"field": "tt", "type": "quantitative", "axis": null}, "y": {"field": "leaves", "type": "quantitative", "axis": null}, "text": {"field": "text"}}}
]},
{"width": 456, "height": 327, "resolve": {"axis": {"x": "independent"}}, "layer": [
 {"data": {"name": "B4_open"}, "mark": {"type": "point", "shape": "circle", "filled": false, "stroke": "#000", "strokeWidth": 1.4, "size": 85, "opacity": 1},
  "encoding": {"x": {"field": "tt", "type": "quantitative", "scale": {"domain": [0, 900], "nice": false}, "axis": {"orient": "bottom", "values": [0,200,400,600,800], "labelFontSize": 31, "labelFont": "Liberation Sans", "labelColor": "#222", "labelPadding": 13, "labelFlush": false, "labelOverlap": false, "labelBound": false, "domain": false, "grid": false, "title": null, "tickColor": "#000", "tickWidth": 1.5, "tickSize": 9}},
   "y": {"field": "leaves", "type": "quantitative", "scale": {"domain": [0, 22], "nice": false}, "axis": {"orient": "left", "values": [0,5,10,15,20], "labels": false, "domain": false, "grid": false, "title": null, "tickSize": 5, "tickWidth": 1.5, "tickColor": "#000"}}}},
 {"data": {"name": "B4_filled"}, "mark": {"type": "point", "shape": "circle", "filled": true, "fill": "#000", "strokeWidth": 0, "size": 85, "opacity": 1},
  "encoding": {"x": {"field": "tt", "type": "quantitative", "scale": {"domain": [0, 900], "nice": false}, "axis": {"orient": "bottom", "values": [0,40,80,120,160,200,240,280,320,360,400,440,480,520,560,600,640,680,720,760,800,840,880], "labels": false, "domain": false, "grid": false, "title": null, "tickColor": "#000", "tickWidth": 1.5, "tickSize": 5}},
   "y": {"field": "leaves", "type": "quantitative", "scale": {"domain": [0, 22], "nice": false}, "axis": {"orient": "right", "values": [0,5,10,15,20], "labels": false, "domain": false, "grid": false, "title": null, "tickSize": 5, "tickWidth": 1.5, "tickColor": "#000"}}}},
 {"data": {"name": "lines"}, "transform": [{"filter": "datum.panel === 'B4'"}], "mark": {"type": "line", "color": "#000", "strokeWidth": 1.2, "clip": true},
  "encoding": {"x": {"field": "tt", "type": "quantitative", "scale": {"domain": [0, 900], "nice": false}, "axis": null}, "y": {"field": "leaves", "type": "quantitative", "scale": {"domain": [0, 22], "nice": false}, "axis": null}}},
 {"data": {"name": "notes"}, "transform": [{"filter": "datum.panel === 'B4' && datum.kind === 'id'"}], "mark": {"type": "text", "align": "left", "baseline": "alphabetic", "fontSize": 27, "font": "Liberation Sans", "color": "#222"},
  "encoding": {"x": {"field": "tt", "type": "quantitative", "axis": null}, "y": {"field": "leaves", "type": "quantitative", "axis": null}, "text": {"field": "text"}}},
 {"data": {"name": "notes"}, "transform": [{"filter": "datum.panel === 'B4' && datum.kind === 'rla'"}], "mark": {"type": "text", "text": "RLA", "align": "left", "baseline": "alphabetic", "fontSize": 31, "font": "Liberation Sans", "color": "#222"},
  "encoding": {"x": {"field": "tt", "type": "quantitative", "axis": null}, "y": {"field": "leaves", "type": "quantitative", "axis": null}}},
 {"data": {"name": "notes"}, "transform": [{"filter": "datum.panel === 'B4' && datum.kind === 'rla'"}], "mark": {"type": "text", "text": "-1", "align": "left", "baseline": "alphabetic", "fontSize": 16, "dx": 61, "dy": -16, "font": "Liberation Sans", "color": "#222"},
  "encoding": {"x": {"field": "tt", "type": "quantitative", "axis": null}, "y": {"field": "leaves", "type": "quantitative", "axis": null}}},
 {"data": {"name": "notes"}, "transform": [{"filter": "datum.panel === 'B4' && datum.kind === 'rla'"}], "mark": {"type": "text", "align": "left", "baseline": "alphabetic", "fontSize": 31, "dx": 74, "font": "Liberation Sans", "color": "#222"},
  "encoding": {"x": {"field": "tt", "type": "quantitative", "axis": null}, "y": {"field": "leaves", "type": "quantitative", "axis": null}, "text": {"field": "text"}}},
 {"data": {"name": "notes"}, "transform": [{"filter": "datum.panel === 'B4' && datum.kind === 'da'"}], "mark": {"type": "text", "align": "left", "baseline": "alphabetic", "fontSize": 31, "font": "Liberation Sans", "color": "#222"},
  "encoding": {"x": {"field": "tt", "type": "quantitative", "axis": null}, "y": {"field": "leaves", "type": "quantitative", "axis": null}, "text": {"field": "text"}}}
]},
{"width": 456, "height": 327, "resolve": {"axis": {"x": "independent"}}, "layer": [
 {"data": {"name": "B6_open"}, "mark": {"type": "point", "shape": "circle", "filled": false, "stroke": "#000", "strokeWidth": 1.4, "size": 85, "opacity": 1},
  "encoding": {"x": {"field": "tt", "type": "quantitative", "scale": {"domain": [0, 900], "nice": false}, "axis": {"orient": "bottom", "values": [0,200,400,600,800], "labelFontSize": 31, "labelFont": "Liberation Sans", "labelColor": "#222", "labelPadding": 13, "labelFlush": false, "labelOverlap": false, "labelBound": false, "domain": false, "grid": false, "title": null, "tickColor": "#000", "tickWidth": 1.5, "tickSize": 9}},
   "y": {"field": "leaves", "type": "quantitative", "scale": {"domain": [0, 22], "nice": false}, "axis": {"orient": "left", "values": [0,5,10,15,20], "labels": false, "domain": false, "grid": false, "title": null, "tickSize": 5, "tickWidth": 1.5, "tickColor": "#000"}}}},
 {"data": {"name": "B6_filled"}, "mark": {"type": "point", "shape": "circle", "filled": true, "fill": "#000", "strokeWidth": 0, "size": 85, "opacity": 1},
  "encoding": {"x": {"field": "tt", "type": "quantitative", "scale": {"domain": [0, 900], "nice": false}, "axis": {"orient": "bottom", "values": [0,40,80,120,160,200,240,280,320,360,400,440,480,520,560,600,640,680,720,760,800,840,880], "labels": false, "domain": false, "grid": false, "title": null, "tickColor": "#000", "tickWidth": 1.5, "tickSize": 5}},
   "y": {"field": "leaves", "type": "quantitative", "scale": {"domain": [0, 22], "nice": false}, "axis": {"orient": "right", "values": [0,5,10,15,20], "labels": false, "domain": false, "grid": false, "title": null, "tickSize": 5, "tickWidth": 1.5, "tickColor": "#000"}}}},
 {"data": {"name": "lines"}, "transform": [{"filter": "datum.panel === 'B6'"}], "mark": {"type": "line", "color": "#000", "strokeWidth": 1.2, "clip": true},
  "encoding": {"x": {"field": "tt", "type": "quantitative", "scale": {"domain": [0, 900], "nice": false}, "axis": null}, "y": {"field": "leaves", "type": "quantitative", "scale": {"domain": [0, 22], "nice": false}, "axis": null}}},
 {"data": {"name": "notes"}, "transform": [{"filter": "datum.panel === 'B6' && datum.kind === 'id'"}], "mark": {"type": "text", "align": "left", "baseline": "alphabetic", "fontSize": 27, "font": "Liberation Sans", "color": "#222"},
  "encoding": {"x": {"field": "tt", "type": "quantitative", "axis": null}, "y": {"field": "leaves", "type": "quantitative", "axis": null}, "text": {"field": "text"}}},
 {"data": {"name": "notes"}, "transform": [{"filter": "datum.panel === 'B6' && datum.kind === 'rla'"}], "mark": {"type": "text", "text": "RLA", "align": "left", "baseline": "alphabetic", "fontSize": 31, "font": "Liberation Sans", "color": "#222"},
  "encoding": {"x": {"field": "tt", "type": "quantitative", "axis": null}, "y": {"field": "leaves", "type": "quantitative", "axis": null}}},
 {"data": {"name": "notes"}, "transform": [{"filter": "datum.panel === 'B6' && datum.kind === 'rla'"}], "mark": {"type": "text", "text": "-1", "align": "left", "baseline": "alphabetic", "fontSize": 16, "dx": 61, "dy": -16, "font": "Liberation Sans", "color": "#222"},
  "encoding": {"x": {"field": "tt", "type": "quantitative", "axis": null}, "y": {"field": "leaves", "type": "quantitative", "axis": null}}},
 {"data": {"name": "notes"}, "transform": [{"filter": "datum.panel === 'B6' && datum.kind === 'rla'"}], "mark": {"type": "text", "align": "left", "baseline": "alphabetic", "fontSize": 31, "dx": 74, "font": "Liberation Sans", "color": "#222"},
  "encoding": {"x": {"field": "tt", "type": "quantitative", "axis": null}, "y": {"field": "leaves", "type": "quantitative", "axis": null}, "text": {"field": "text"}}},
 {"data": {"name": "notes"}, "transform": [{"filter": "datum.panel === 'B6' && datum.kind === 'da'"}], "mark": {"type": "text", "align": "left", "baseline": "alphabetic", "fontSize": 31, "font": "Liberation Sans", "color": "#222"},
  "encoding": {"x": {"field": "tt", "type": "quantitative", "axis": null}, "y": {"field": "leaves", "type": "quantitative", "axis": null}, "text": {"field": "text"}}}
]},
{"width": 456, "height": 327, "resolve": {"axis": {"x": "independent"}}, "layer": [
 {"data": {"name": "B8_open"}, "mark": {"type": "point", "shape": "circle", "filled": false, "stroke": "#000", "strokeWidth": 1.4, "size": 85, "opacity": 1},
  "encoding": {"x": {"field": "tt", "type": "quantitative", "scale": {"domain": [0, 900], "nice": false}, "axis": {"orient": "bottom", "values": [0,200,400,600,800], "labelFontSize": 31, "labelFont": "Liberation Sans", "labelColor": "#222", "labelPadding": 13, "labelFlush": false, "labelOverlap": false, "labelBound": false, "domain": false, "grid": false, "title": null, "tickColor": "#000", "tickWidth": 1.5, "tickSize": 9}},
   "y": {"field": "leaves", "type": "quantitative", "scale": {"domain": [0, 22], "nice": false}, "axis": {"orient": "left", "values": [0,5,10,15,20], "labels": false, "domain": false, "grid": false, "title": null, "tickSize": 5, "tickWidth": 1.5, "tickColor": "#000"}}}},
 {"data": {"name": "B8_filled"}, "mark": {"type": "point", "shape": "circle", "filled": true, "fill": "#000", "strokeWidth": 0, "size": 85, "opacity": 1},
  "encoding": {"x": {"field": "tt", "type": "quantitative", "scale": {"domain": [0, 900], "nice": false}, "axis": {"orient": "bottom", "values": [0,40,80,120,160,200,240,280,320,360,400,440,480,520,560,600,640,680,720,760,800,840,880], "labels": false, "domain": false, "grid": false, "title": null, "tickColor": "#000", "tickWidth": 1.5, "tickSize": 5}},
   "y": {"field": "leaves", "type": "quantitative", "scale": {"domain": [0, 22], "nice": false}, "axis": {"orient": "right", "values": [0,5,10,15,20], "labels": false, "domain": false, "grid": false, "title": null, "tickSize": 5, "tickWidth": 1.5, "tickColor": "#000"}}}},
 {"data": {"name": "lines"}, "transform": [{"filter": "datum.panel === 'B8'"}], "mark": {"type": "line", "color": "#000", "strokeWidth": 1.2, "clip": true},
  "encoding": {"x": {"field": "tt", "type": "quantitative", "scale": {"domain": [0, 900], "nice": false}, "axis": null}, "y": {"field": "leaves", "type": "quantitative", "scale": {"domain": [0, 22], "nice": false}, "axis": null}}},
 {"data": {"name": "notes"}, "transform": [{"filter": "datum.panel === 'B8' && datum.kind === 'id'"}], "mark": {"type": "text", "align": "left", "baseline": "alphabetic", "fontSize": 27, "font": "Liberation Sans", "color": "#222"},
  "encoding": {"x": {"field": "tt", "type": "quantitative", "axis": null}, "y": {"field": "leaves", "type": "quantitative", "axis": null}, "text": {"field": "text"}}},
 {"data": {"name": "notes"}, "transform": [{"filter": "datum.panel === 'B8' && datum.kind === 'rla'"}], "mark": {"type": "text", "text": "RLA", "align": "left", "baseline": "alphabetic", "fontSize": 31, "font": "Liberation Sans", "color": "#222"},
  "encoding": {"x": {"field": "tt", "type": "quantitative", "axis": null}, "y": {"field": "leaves", "type": "quantitative", "axis": null}}},
 {"data": {"name": "notes"}, "transform": [{"filter": "datum.panel === 'B8' && datum.kind === 'rla'"}], "mark": {"type": "text", "text": "-1", "align": "left", "baseline": "alphabetic", "fontSize": 16, "dx": 61, "dy": -16, "font": "Liberation Sans", "color": "#222"},
  "encoding": {"x": {"field": "tt", "type": "quantitative", "axis": null}, "y": {"field": "leaves", "type": "quantitative", "axis": null}}},
 {"data": {"name": "notes"}, "transform": [{"filter": "datum.panel === 'B8' && datum.kind === 'rla'"}], "mark": {"type": "text", "align": "left", "baseline": "alphabetic", "fontSize": 31, "dx": 74, "font": "Liberation Sans", "color": "#222"},
  "encoding": {"x": {"field": "tt", "type": "quantitative", "axis": null}, "y": {"field": "leaves", "type": "quantitative", "axis": null}, "text": {"field": "text"}}},
 {"data": {"name": "notes"}, "transform": [{"filter": "datum.panel === 'B8' && datum.kind === 'da'"}], "mark": {"type": "text", "align": "left", "baseline": "alphabetic", "fontSize": 31, "font": "Liberation Sans", "color": "#222"},
  "encoding": {"x": {"field": "tt", "type": "quantitative", "axis": null}, "y": {"field": "leaves", "type": "quantitative", "axis": null}, "text": {"field": "text"}}}
]}
],
"config": {"view": {"stroke": "#000", "strokeWidth": 2}, "font": "Liberation Sans"}
}
